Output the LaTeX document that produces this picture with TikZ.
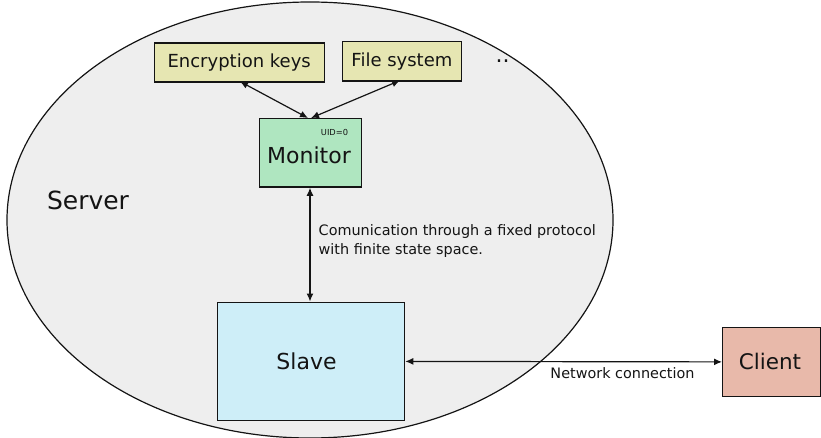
\documentclass[tikz,border=0pt]{standalone}
\usepackage{fontspec}
\setmainfont{DejaVu Sans}
\usetikzlibrary{arrows.meta,shapes.geometric}
\definecolor{servergray}{RGB}{238,238,238}
\definecolor{resyellow}{RGB}{230,230,178}
\definecolor{mongreen}{RGB}{175,230,192}
\definecolor{slaveblue}{RGB}{206,238,248}
\definecolor{clientpink}{RGB}{232,185,170}
\definecolor{edge}{RGB}{20,20,20}
\tikzset{
  box/.style={draw=edge, line width=1.3pt, inner sep=0pt, anchor=north west},
  link/.style={line width=1.2pt, draw=edge, {Latex[length=8pt,width=7pt]}-{Latex[length=8pt,width=7pt]}},
  lbl/.style={font=\fontsize{14.4}{18.7}\selectfont, text=edge, align=left, inner sep=0pt}
}
\begin{document}
\begin{tikzpicture}[x=1pt,y=-1pt]
  \useasboundingbox (0,0) rectangle (821,438);
  \clip (0,0) rectangle (821,438);
  % server region
  \node[ellipse, draw=edge, line width=1.2pt, fill=servergray,
        minimum width=606pt, minimum height=436pt, inner sep=0pt] (server) at (310,220) {};
  \node[font=\fontsize{25}{30}\selectfont, text=edge] (servertxt) at (88,200) {Server};
  % resources
  \node[box, fill=resyellow, minimum width=170pt, minimum height=39pt] (keys) at (153.5,42.5) {};
  \node[font=\fontsize{18}{22}\selectfont, text=edge] (keystxt) at (keys.center) {Encryption keys};
  \node[box, fill=resyellow, minimum width=119.5pt, minimum height=39.5pt] (fs) at (341.5,41) {};
  \node[font=\fontsize{18}{22}\selectfont, text=edge] (fstxt) at (fs.center) {File system};
  \node[font=\fontsize{22}{26}\selectfont, text=edge, inner sep=0pt, anchor=base] (more) at (502.5,63) {..};
  % monitor
  \node[box, fill=mongreen, minimum width=102pt, minimum height=68.5pt] (mon) at (258.5,118) {};
  \node[font=\fontsize{22}{26}\selectfont, text=edge] (montxt) at (309,155) {Monitor};
  \node[font=\fontsize{8.3}{10}\selectfont, text=edge] (uid) at (334.5,132) {UID=0};
  % slave
  \node[box, fill=slaveblue, minimum width=187.5pt, minimum height=118.5pt] (slave) at (216.5,301.5) {};
  \node[font=\fontsize{22}{26}\selectfont, text=edge] (slavetxt) at (306.5,361) {Slave};
  % client
  \node[box, fill=clientpink, minimum width=98pt, minimum height=68.5pt] (client) at (722,327) {};
  \node[font=\fontsize{21.5}{26}\selectfont, text=edge] (clienttxt) at (770,361) {Client};
  % connectors
  \coordinate (keysend) at (240,81.5);
  \coordinate (fsend) at (400,80.5);
  \coordinate (montop1) at (308,118);
  \coordinate (montop2) at (311,118);
  \draw[link] (keysend) -- (montop1);
  \draw[link] (fsend) -- (montop2);
  \draw[link] (mon.south -| 310,0) -- (slave.north -| 310,0);
  \draw[link] (slave.east) -- (client.west);
  % labels
  \node[lbl, anchor=north west] (proto) at (318.5,224.5) {Comunication through a fixed protocol\\with finite state space.};
  \node[lbl] (net) at (622.5,373) {Network connection};
\end{tikzpicture}
\end{document}
